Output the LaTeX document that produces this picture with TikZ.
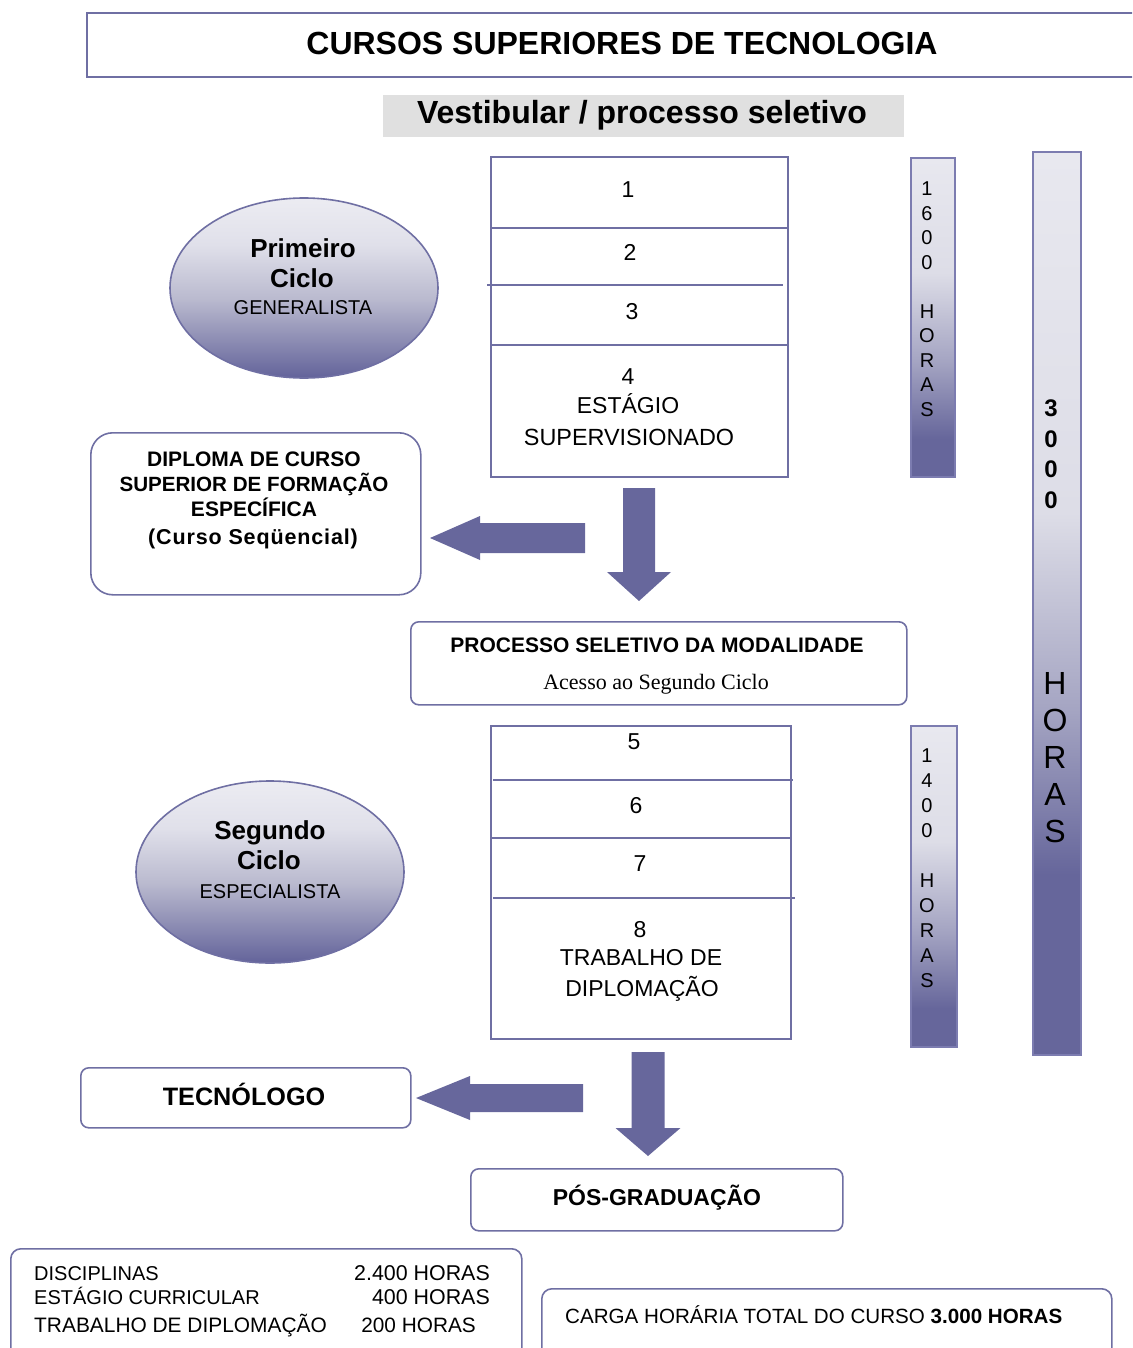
\documentclass[tikz,border=0pt]{standalone}
\usepackage{fontspec}
\setmainfont{Liberation Sans}
\newfontfamily\serifface{Liberation Serif}
\usetikzlibrary{calc,shapes.geometric}
\definecolor{boxcol}{HTML}{6F6FA3}
\definecolor{barline}{HTML}{7C7CB0}
\definecolor{arrowcol}{HTML}{67679C}
\definecolor{vestgray}{HTML}{E0E0E0}
\definecolor{shLite}{HTML}{E8E8EF}
\definecolor{shLiteB}{HTML}{DDDDE7}
\definecolor{shMid}{HTML}{A4A4C2}
\definecolor{shDark}{HTML}{66669B}
\definecolor{elTop}{HTML}{ECECF2}
\definecolor{elUp}{HTML}{E0E0EA}
\definecolor{elMid}{HTML}{BABACF}
\definecolor{elBot}{HTML}{63639A}
\pgfdeclareverticalshading{bigbarshade}{100bp}{color(0bp)=(shDark); color(35bp)=(shDark); color(44bp)=(shMid); color(55bp)=(shLiteB); color(75bp)=(shLite); color(100bp)=(shLite)}
\pgfdeclareverticalshading{smallbarshade}{100bp}{color(0bp)=(shDark); color(31bp)=(shDark); color(43bp)=(shMid); color(57bp)=(shLiteB); color(75bp)=(shLite); color(100bp)=(shLite)}
\pgfdeclareverticalshading{ellshade}{100bp}{color(0bp)=(elBot); color(25bp)=(elBot); color(47bp)=(elMid); color(62bp)=(elUp); color(75bp)=(elTop); color(100bp)=(elTop)}
\newcommand{\leftblock}[5]{\fill[arrowcol] ($(#1)+(0,-#3)$) -- ($(#2)+(#5,-#3)$) -- ($(#2)+(#5,-#4)$) -- (#2) -- ($(#2)+(#5,#4)$) -- ($(#2)+(#5,#3)$) -- ($(#1)+(0,#3)$) -- cycle;}
\newcommand{\downblock}[5]{\fill[arrowcol] ($(#1)+(-#3,0)$) -- ($(#2)+(-#3,-#5)$) -- ($(#2)+(-#4,-#5)$) -- (#2) -- ($(#2)+(#4,-#5)$) -- ($(#2)+(#3,-#5)$) -- ($(#1)+(#3,0)$) -- cycle;}
\tikzset{
  box/.style={draw=boxcol, line width=1.6, inner sep=0, anchor=north west},
  rbox/.style={box, rounded corners=#1},
  bar/.style={draw=barline, line width=1.8, inner sep=0, anchor=north west},
  ell/.style={ellipse, draw=boxcol, line width=1.6, shading=ellshade, inner sep=0},
  divider/.style={draw=boxcol, line width=1.6},
  lbl/.style={inner sep=0, anchor=base},
  lblw/.style={inner sep=0, anchor=base west},
  lble/.style={inner sep=0, anchor=base east},
  fs/.style={font=\fontsize{#1}{#1}\selectfont},
  fsb/.style={font=\fontsize{#1}{#1}\selectfont\bfseries},
}
\begin{document}
\begin{tikzpicture}[x=1pt,y=-1pt]
\useasboundingbox (0,0) rectangle (1132,1348);
\clip (0,0) rectangle (1132,1348);

% title
\node[box, minimum width=1060, minimum height=64] (titlebox) at (86,12) {};
\node[lbl, fsb=32] (titletext) at (622,55) {CURSOS SUPERIORES DE TECNOLOGIA};

% vestibular
\node[box, draw=none, fill=vestgray, minimum width=521, minimum height=42] (vest) at (382,94) {};
\node[lbl, fsb=32] (vesttext) at (642,124) {Vestibular / processo seletivo};

% first stack
\node[box, minimum width=297, minimum height=320] (stackA) at (490,156) {};
\draw[divider] (490,228) -- (787,228);
\draw[divider] (487,285) -- (783,285);
\draw[divider] (490,345) -- (787,345);
\node[lbl, fs=23] (s1) at (628,198) {1};
\node[lbl, fs=23] (s2) at (630,261) {2};
\node[lbl, fs=23] (s3) at (632,319) {3};
\node[lbl, fs=23] (s4) at (628,384) {4};
\node[lbl, fs=23] (s4a) at (628,413) {ESTÁGIO};
\node[lbl, fs=23.4] (s4b) at (629,445) {SUPERVISIONADO};

% first ellipse
\node[ell, minimum width=268, minimum height=180] (ellA) at (304,288) {};
\node[lbl, fsb=26] (ellA1) at (303,257.5) {Primeiro};
\node[lbl, fsb=26] (ellA2) at (302,287.5) {Ciclo};
\node[lbl, fs=20] (ellA3) at (303,314) {GENERALISTA};

% bars
\node[bar, shading=smallbarshade, minimum width=44, minimum height=319] (barA) at (910,157) {};
\node[inner sep=0, align=center, font=\fontsize{20}{24.5}\selectfont] (barAtext) at (927,299) {1\\6\\0\\0\\[24.5pt]H\\O\\R\\A\\S};
\node[bar, shading=bigbarshade, minimum width=48, minimum height=903] (barBig) at (1032,151) {};
\node[inner sep=0, align=center, font=\fontsize{24}{30.5}\selectfont\bfseries] (barBigA) at (1051,454) {3\\0\\0\\0};
\node[inner sep=0, align=center, font=\fontsize{32}{37}\selectfont] (barBigB) at (1055,757.5) {H\\O\\R\\A\\S};
\node[bar, shading=smallbarshade, minimum width=46, minimum height=321] (barB) at (910,725) {};
\node[inner sep=0, align=center, font=\fontsize{20}{25}\selectfont] (barBtext) at (927,868) {1\\4\\0\\0\\[25pt]H\\O\\R\\A\\S};

% diploma box
\node[rbox=22, minimum width=330, minimum height=162] (diploma) at (90,432) {};
\node[lbl, fsb=21] (dip1) at (254,466.5) {DIPLOMA DE CURSO};
\node[lbl, fsb=20.6] (dip2) at (254,491.5) {SUPERIOR DE FORMAÇÃO};
\node[lbl, fsb=21] (dip3) at (254,516.5) {ESPECÍFICA};
\node[lbl, fsb=21.5, font=\fontsize{21.5}{21.5}\selectfont\bfseries\addfontfeature{LetterSpace=4}] (dip4) at (253,544.5) {(Curso Seqüencial)};

% arrows from first stack
\coordinate (la1tail) at (585,538);
\coordinate (la1tip) at (430,538);
\leftblock{la1tail}{la1tip}{15}{22}{50}
\coordinate (da1top) at (639,488);
\coordinate (da1tip) at (639,601);
\downblock{da1top}{da1tip}{16}{32}{29}

% processo seletivo
\node[rbox=8, minimum width=496, minimum height=83] (processo) at (410,621) {};
\node[lbl, fsb=21] (proc1) at (657,652.5) {PROCESSO SELETIVO DA MODALIDADE};
\node[lbl, font=\fontsize{22}{22}\serifface] (proc2) at (656,689.5) {Acesso ao Segundo Ciclo};

% second stack
\node[box, minimum width=300, minimum height=313] (stackB) at (490,725) {};
\draw[divider] (493,780) -- (793,780);
\draw[divider] (490,838) -- (790,838);
\draw[divider] (493,898) -- (795,898);
\node[lbl, fs=23] (s5) at (634,749) {5};
\node[lbl, fs=23] (s6) at (636,813) {6};
\node[lbl, fs=23] (s7) at (640,871) {7};
\node[lbl, fs=23] (s8) at (640,937) {8};
\node[lbl, fs=23] (s8a) at (641,965) {TRABALHO DE};
\node[lbl, fs=23] (s8b) at (642,996) {DIPLOMAÇÃO};

% second ellipse
\node[ell, minimum width=268, minimum height=182] (ellB) at (270,872) {};
\node[lbl, fsb=26] (ellB1) at (270,839.5) {Segundo};
\node[lbl, fsb=26] (ellB2) at (269,869.5) {Ciclo};
\node[lbl, fs=20] (ellB3) at (270,898) {ESPECIALISTA};

% tecnologo and pos
\node[rbox=8, minimum width=330, minimum height=60] (tecno) at (80,1067) {};
\node[lbl, fsb=25.2] (tecnotext) at (244,1105) {TECNÓLOGO};
\node[rbox=8, minimum width=372, minimum height=62] (pos) at (470,1168) {};
\node[lbl, fsb=23] (postext) at (657,1205) {PÓS-GRADUAÇÃO};
\coordinate (la2tail) at (583,1098);
\coordinate (la2tip) at (416,1098);
\leftblock{la2tail}{la2tip}{14}{22}{54}
\coordinate (da2top) at (648,1052);
\coordinate (da2tip) at (648,1156);
\downblock{da2top}{da2tip}{16.5}{32.5}{28}

% summary boxes
\node[rbox=10, minimum width=511, minimum height=130] (sumbox) at (10,1248) {};
\node[lblw, fs=20] (sumL1) at (34,1280) {DISCIPLINAS};
\node[lblw, fs=20] (sumL2) at (34,1304) {ESTÁGIO CURRICULAR};
\node[lblw, fs=20.9] (sumL3) at (34,1332) {TRABALHO DE DIPLOMAÇÃO};
\node[lble, fs=21.4] (sumR1) at (490,1280) {2.400 HORAS};
\node[lble, fs=21.4] (sumR2) at (490,1304) {400 HORAS};
\node[lble, fs=20.8] (sumR3) at (476,1332) {200 HORAS};
\node[rbox=10, minimum width=570, minimum height=90] (totbox) at (541,1288) {};
\node[lblw, fs=20.6] (tottext) at (565,1323.5) {CARGA HORÁRIA TOTAL DO CURSO \textbf{3.000 HORAS}};
\end{tikzpicture}
\end{document}
